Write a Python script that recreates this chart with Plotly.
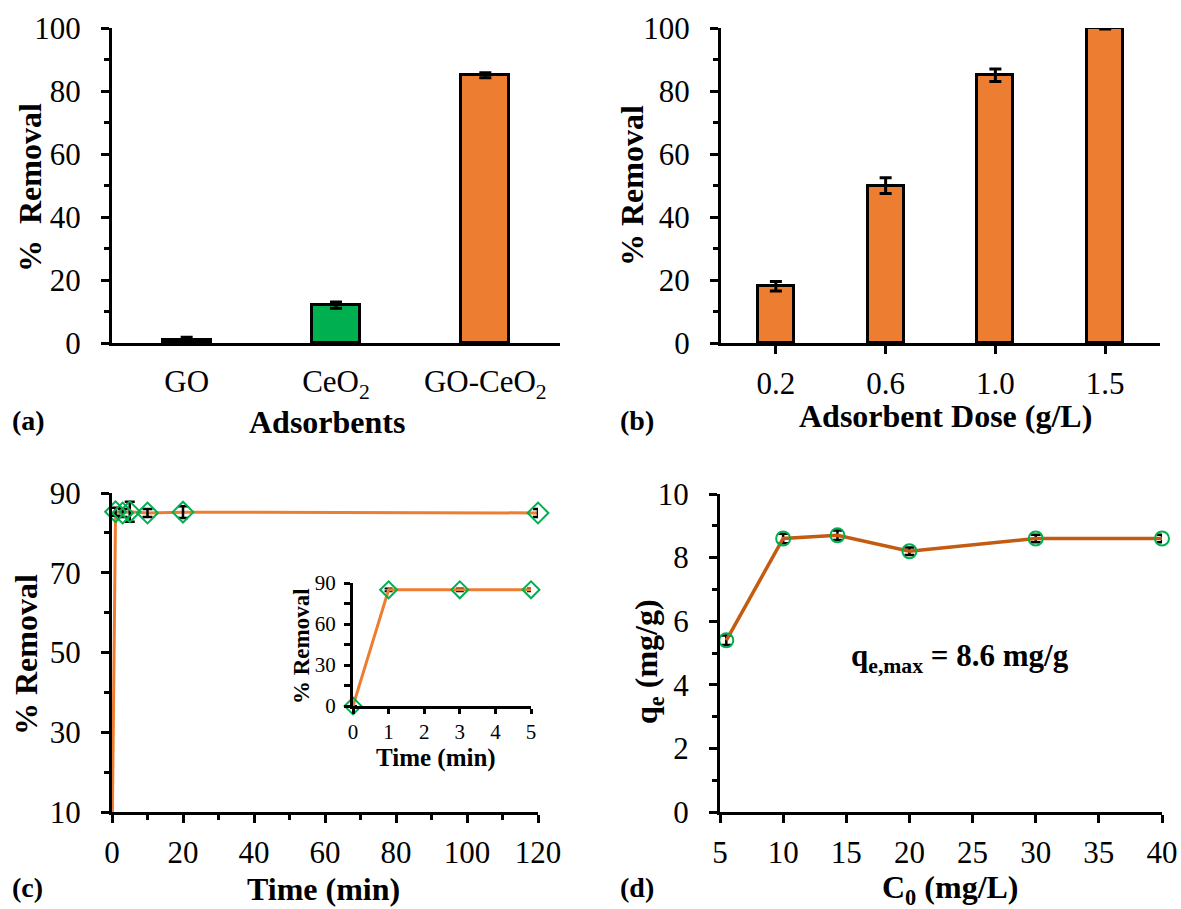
import plotly.graph_objects as go

# ---- data ----
adsorbents = ["GO", "CeO<sub>2</sub>", "GO-CeO<sub>2</sub>"]
removal_a = [0.8, 12, 85]
err_a = [1.0, 1.0, 0.8]
colors_a = ["#404040", "#00B050", "#ED7D31"]

doses = ["0.2", "0.6", "1.0", "1.5"]
removal_b = [18, 50, 85, 100]
err_b = [1.5, 2.5, 2.0, 0.3]

time_c = [0, 1, 3, 5, 10, 20, 120]
removal_c = [0, 85.3, 85.0, 85.3, 85.0, 85.2, 85.0]
err_c = [0, 1.0, 1.0, 2.5, 1.0, 1.5, 1.0]

time_inset = [0, 1, 3, 5]
removal_inset = [0, 85, 85, 85]
err_inset = [0, 1.0, 1.0, 1.0]

c0_d = [5.5, 10, 14.3, 20, 30, 40]
qe_d = [5.4, 8.6, 8.7, 8.2, 8.6, 8.6]
err_d = [0.15, 0.15, 0.15, 0.12, 0.12, 0.12]

FONT = "Liberation Serif"
ORANGE = "#ED7D31"
DARK_ORANGE = "#C55A11"
GREEN = "#00B050"

W, H = 1181, 909
def dx(a, b):
    return [a / W, b / W]
def dy(top, bottom):
    return [1 - bottom / H, 1 - top / H]

fig = go.Figure()

# (a)
fig.add_trace(go.Bar(x=adsorbents, y=removal_a, marker=dict(color=colors_a, line=dict(color="black", width=3)),
                     width=0.32,
                     error_y=dict(type="data", array=err_a, color="black", thickness=3, width=6),
                     xaxis="x", yaxis="y", showlegend=False))
# (b)
fig.add_trace(go.Bar(x=doses, y=removal_b, marker=dict(color=ORANGE, line=dict(color="black", width=3)),
                     width=0.33,
                     error_y=dict(type="data", array=err_b, color="black", thickness=3, width=6),
                     xaxis="x2", yaxis="y2", showlegend=False))
# (c) line (all points, clipped)
fig.add_trace(go.Scatter(x=time_c, y=removal_c, mode="lines", line=dict(color=ORANGE, width=3),
                         xaxis="x3", yaxis="y3", showlegend=False))
# (c) markers within visible range
vis = [i for i, v in enumerate(removal_c) if v >= 10]
fig.add_trace(go.Scatter(x=[time_c[i] for i in vis], y=[removal_c[i] for i in vis], mode="markers",
                         marker=dict(symbol="diamond-open", size=16, color=GREEN, line=dict(width=2)),
                         error_y=dict(type="data", array=[err_c[i] for i in vis], color="black", thickness=2.5, width=5),
                         cliponaxis=False, xaxis="x3", yaxis="y3", showlegend=False))
# (d)
fig.add_trace(go.Scatter(x=c0_d, y=qe_d, mode="lines+markers", line=dict(color=DARK_ORANGE, width=3.5),
                         marker=dict(symbol="circle-open", size=14, color=GREEN, line=dict(width=2)),
                         error_y=dict(type="data", array=err_d, color="black", thickness=2.5, width=5),
                         cliponaxis=False, xaxis="x4", yaxis="y4", showlegend=False))
# inset
fig.add_trace(go.Scatter(x=time_inset, y=removal_inset, mode="lines+markers", line=dict(color=ORANGE, width=3),
                         marker=dict(symbol="diamond-open", size=13, color=GREEN, line=dict(width=2)),
                         error_y=dict(type="data", array=err_inset, color="black", thickness=2, width=4),
                         cliponaxis=False, xaxis="x5", yaxis="y5", showlegend=False))

tickfont = dict(family=FONT, size=31, color="black")
itick = dict(family=FONT, size=21, color="black")

def ax(**kw):
    base = dict(showline=True, linecolor="black", linewidth=3, showgrid=False, zeroline=False,
                ticks="outside", tickwidth=3, ticklen=8, tickcolor="black", tickfont=tickfont,
                automargin=False)
    base.update(kw)
    return base

minor_y = lambda d: dict(dtick=d, ticks="outside", ticklen=5, tickwidth=3, tickcolor="black", showgrid=False)

fig.update_layout(
    width=W, height=H, margin=dict(l=0, r=0, t=0, b=0, autoexpand=False),
    plot_bgcolor="white", paper_bgcolor="white", bargap=0,
    font=dict(family=FONT, color="black"),
    xaxis=ax(domain=dx(112, 560), anchor="y", ticks="", ticklabelstandoff=9),
    yaxis=ax(domain=dy(28, 343), anchor="x", range=[0, 100], dtick=20, minor=minor_y(10), ticklabelstandoff=14),
    xaxis2=ax(domain=dx(721, 1160), anchor="y2", ticklabelstandoff=3),
    yaxis2=ax(domain=dy(28, 343), anchor="x2", range=[0, 100], dtick=20, minor=minor_y(10), ticklabelstandoff=14),
    xaxis3=ax(domain=dx(112, 538), anchor="y3", range=[0, 120], dtick=20, minor=minor_y(10), ticklabelstandoff=3),
    yaxis3=ax(domain=dy(493, 812), anchor="x3", range=[10, 90], tick0=10, dtick=20, minor=minor_y(10), ticklabelstandoff=14),
    xaxis4=ax(domain=dx(720, 1162), anchor="y4", range=[5, 40], dtick=5, ticklabelstandoff=3),
    yaxis4=ax(domain=dy(494, 812), anchor="x4", range=[0, 10], dtick=2, minor=minor_y(1), ticklabelstandoff=14),
    xaxis5=ax(domain=dx(353, 531), anchor="y5", range=[0, 5], dtick=1, ticklen=5,
              tickfont=itick, ticklabelstandoff=0),
    yaxis5=ax(domain=dy(583, 706), anchor="x5", range=[0, 90], dtick=30, ticklen=6,
              minor=dict(dtick=15, ticks="outside", ticklen=6, tickwidth=3, tickcolor="black"),
              tickfont=itick, ticklabelstandoff=4),
)

def txt(text, px, py, size, angle=0, anchor="center"):
    fig.add_annotation(text=text, x=px / W, y=1 - py / H, xref="paper", yref="paper",
                       xanchor=anchor, yanchor="middle", showarrow=False, textangle=angle,
                       font=dict(family=FONT, size=size, color="black"))

# axis titles
txt("<b>%  Removal</b>", 30, 188, 32, -90)
txt("<b>Adsorbents</b>", 327, 422, 32)
txt("<b>% Removal</b>", 632, 186, 32, -90)
txt("<b>Adsorbent Dose (g/L)</b>", 945, 416, 32)
txt("<b>% Removal</b>", 26, 655, 32, -90)
txt("<b>Time (min)</b>", 323, 889, 32)
txt("<b>q<sub>e</sub> (mg/g)</b>", 648, 662, 32, -90)
txt("<b>C<sub>0</sub> (mg/L)</b>", 950, 889, 32)
txt("<b>% Removal</b>", 301, 646, 23, -90)
txt("<b>Time (min)</b>", 436, 758, 25)

# panel labels
for lab, px, py in [("(a)", 10, 420), ("(b)", 618, 420), ("(c)", 10, 887), ("(d)", 618, 887)]:
    txt(f"<b>{lab}</b>", px, py, 28, 0, "left")

fig.add_annotation(text="<b>q<sub>e,max</sub> = 8.6 mg/g</b>", x=24, y=4.85, xref="x4", yref="y4",
                   showarrow=False, font=dict(family=FONT, size=31, color="black"))

fig.write_html("out.html")
